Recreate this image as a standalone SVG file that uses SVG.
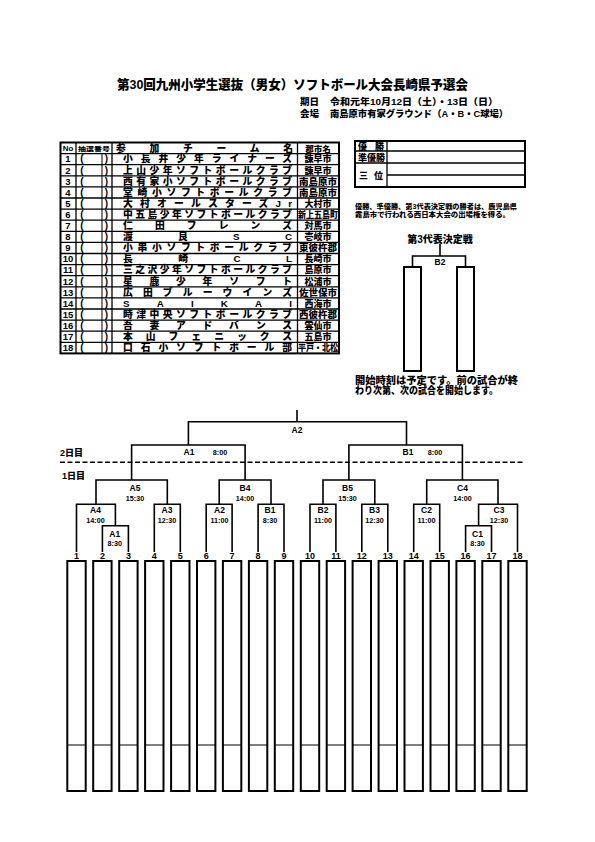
<svg xmlns="http://www.w3.org/2000/svg" width="595" height="842" viewBox="0 0 595 842">
<style>
text{font-family:"Liberation Sans","Noto Sans CJK JP",sans-serif;font-weight:900;fill:#000}
.t{font-size:13px}
.sub{font-size:9.5px}
.hd{font-size:8px;text-anchor:middle}
.no{font-size:9.5px;text-anchor:middle}
.br{font-size:10px;text-anchor:middle}
.tm{font-size:9.8px}
.cy{font-size:9px;text-anchor:middle}
.lb{font-size:9px}
.nt{font-size:6.8px}
.nt2{font-size:10px}
.ml{font-size:8.5px;text-anchor:middle}
.mt{font-size:7.2px;text-anchor:middle}
.num{font-size:9px;text-anchor:middle}
.day{font-size:9px}
.tb{stroke:#000;stroke-width:1.3;fill:none}
.tbo{stroke:#000;stroke-width:2;fill:none}
.box{stroke:#000;stroke-width:2;fill:#fff}
.div{stroke:#000;stroke-width:1}
.cn{stroke:#000;stroke-width:1.6;fill:none}
</style>

<!-- Title -->
<g id="title">
<text class="t" x="117" y="88.5" textLength="351" lengthAdjust="spacingAndGlyphs">第30回九州小学生選抜（男女）ソフトボール大会長崎県予選会</text>
<text class="sub" x="300" y="105">期日</text>
<text class="sub" x="330" y="105" textLength="168" lengthAdjust="spacingAndGlyphs">令和元年10月12日（土）・13日（日）</text>
<text class="sub" x="300" y="116.5">会場</text>
<text class="sub" x="330" y="116.5" textLength="178" lengthAdjust="spacingAndGlyphs">南島原市有家グラウンド（A・B・C球場）</text>
</g>

<!-- Team table -->
<g id="team-table">
<rect class="tbo" x="60.5" y="142.5" width="278.5" height="210.9"/>
<path class="tb" d="M60.5,153.6H339M60.5,164.7H339M60.5,175.8H339M60.5,186.9H339M60.5,198H339M60.5,209.1H339M60.5,220.2H339M60.5,231.3H339M60.5,242.4H339M60.5,253.5H339M60.5,264.6H339M60.5,275.7H339M60.5,286.8H339M60.5,297.9H339M60.5,309H339M60.5,320.1H339M60.5,331.2H339M60.5,342.3H339"/>
<path class="tb" d="M76,142.5V353.4M112,142.5V353.4M297.5,142.5V353.4"/>
<path class="div" d="M102,153.6V353.4"/>
<text class="hd" x="68" y="151">No</text>
<text class="hd" x="94" y="150.5" style="font-size:6px" textLength="32" lengthAdjust="spacingAndGlyphs">抽選番号</text>
<text class="tm" x="116" y="151.5" textLength="177" lengthAdjust="spacing">参加チーム名</text>
<text class="hd" x="318" y="151.5" style="font-size:8.5px">郡市名</text>
</g>

<g id="row1"><text class="no" x="68" y="162.45">1</text><text class="br" x="82" y="162.45">(</text><text class="br" x="106.5" y="162.45">)</text><text class="tm" x="123" y="162.45" textLength="169" lengthAdjust="spacing">小長井少年ライナーズ</text><text class="cy" x="318" y="162.45">諫早市</text></g>
<g id="row2"><text class="no" x="68" y="173.55">2</text><text class="br" x="82" y="173.55">(</text><text class="br" x="106.5" y="173.55">)</text><text class="tm" x="123" y="173.55" textLength="169" lengthAdjust="spacing">上山少年ソフトボールクラブ</text><text class="cy" x="318" y="173.55">諫早市</text></g>
<g id="row3"><text class="no" x="68" y="184.65">3</text><text class="br" x="82" y="184.65">(</text><text class="br" x="106.5" y="184.65">)</text><text class="tm" x="123" y="184.65" textLength="169" lengthAdjust="spacing">西有家小ソフトボールクラブ</text><text class="cy" x="318" y="184.65" textLength="38" lengthAdjust="spacingAndGlyphs">南島原市</text></g>
<g id="row4"><text class="no" x="68" y="195.75">4</text><text class="br" x="82" y="195.75">(</text><text class="br" x="106.5" y="195.75">)</text><text class="tm" x="123" y="195.75" textLength="169" lengthAdjust="spacing">堂崎小ソフトボールクラブ</text><text class="cy" x="318" y="195.75" textLength="38" lengthAdjust="spacingAndGlyphs">南島原市</text></g>
<g id="row5"><text class="no" x="68" y="206.85">5</text><text class="br" x="82" y="206.85">(</text><text class="br" x="106.5" y="206.85">)</text><text class="tm" x="123" y="206.85" textLength="169" lengthAdjust="spacing">大村オールスターズJr</text><text class="cy" x="318" y="206.85">大村市</text></g>
<g id="row6"><text class="no" x="68" y="217.95">6</text><text class="br" x="82" y="217.95">(</text><text class="br" x="106.5" y="217.95">)</text><text class="tm" x="123" y="217.95" textLength="169" lengthAdjust="spacing">中五島少年ソフトボールクラブ</text><text class="cy" x="318" y="217.95" textLength="40" lengthAdjust="spacingAndGlyphs">新上五島町</text></g>
<g id="row7"><text class="no" x="68" y="229.05">7</text><text class="br" x="82" y="229.05">(</text><text class="br" x="106.5" y="229.05">)</text><text class="tm" x="123" y="229.05" textLength="169" lengthAdjust="spacing">仁田フレンズ</text><text class="cy" x="318" y="229.05">対馬市</text></g>
<g id="row8"><text class="no" x="68" y="240.15">8</text><text class="br" x="82" y="240.15">(</text><text class="br" x="106.5" y="240.15">)</text><text class="tm" x="123" y="240.15" textLength="169" lengthAdjust="spacing">渡良SC</text><text class="cy" x="318" y="240.15">壱岐市</text></g>
<g id="row9"><text class="no" x="68" y="251.25">9</text><text class="br" x="82" y="251.25">(</text><text class="br" x="106.5" y="251.25">)</text><text class="tm" x="123" y="251.25" textLength="169" lengthAdjust="spacing">小串小ソフトボールクラブ</text><text class="cy" x="318" y="251.25" textLength="38" lengthAdjust="spacingAndGlyphs">東彼杵郡</text></g>
<g id="row10"><text class="no" x="68" y="262.35">10</text><text class="br" x="82" y="262.35">(</text><text class="br" x="106.5" y="262.35">)</text><text class="tm" x="123" y="262.35" textLength="169" lengthAdjust="spacing">長崎CL</text><text class="cy" x="318" y="262.35">長崎市</text></g>
<g id="row11"><text class="no" x="68" y="273.45">11</text><text class="br" x="82" y="273.45">(</text><text class="br" x="106.5" y="273.45">)</text><text class="tm" x="123" y="273.45" textLength="169" lengthAdjust="spacing">三之沢少年ソフトボールクラブ</text><text class="cy" x="318" y="273.45">島原市</text></g>
<g id="row12"><text class="no" x="68" y="284.55">12</text><text class="br" x="82" y="284.55">(</text><text class="br" x="106.5" y="284.55">)</text><text class="tm" x="123" y="284.55" textLength="169" lengthAdjust="spacing">星鹿少年ソフト</text><text class="cy" x="318" y="284.55">松浦市</text></g>
<g id="row13"><text class="no" x="68" y="295.65">13</text><text class="br" x="82" y="295.65">(</text><text class="br" x="106.5" y="295.65">)</text><text class="tm" x="123" y="295.65" textLength="169" lengthAdjust="spacing">広田ブルーウインズ</text><text class="cy" x="318" y="295.65" textLength="38" lengthAdjust="spacingAndGlyphs">佐世保市</text></g>
<g id="row14"><text class="no" x="68" y="306.75">14</text><text class="br" x="82" y="306.75">(</text><text class="br" x="106.5" y="306.75">)</text><text class="tm" x="123" y="306.75" textLength="169" lengthAdjust="spacing">SAIKAI</text><text class="cy" x="318" y="306.75">西海市</text></g>
<g id="row15"><text class="no" x="68" y="317.85">15</text><text class="br" x="82" y="317.85">(</text><text class="br" x="106.5" y="317.85">)</text><text class="tm" x="123" y="317.85" textLength="169" lengthAdjust="spacing">時津中央ソフトボールクラブ</text><text class="cy" x="318" y="317.85" textLength="38" lengthAdjust="spacingAndGlyphs">西彼杵郡</text></g>
<g id="row16"><text class="no" x="68" y="328.95">16</text><text class="br" x="82" y="328.95">(</text><text class="br" x="106.5" y="328.95">)</text><text class="tm" x="123" y="328.95" textLength="169" lengthAdjust="spacing">吾妻アドバンス</text><text class="cy" x="318" y="328.95">雲仙市</text></g>
<g id="row17"><text class="no" x="68" y="340.05">17</text><text class="br" x="82" y="340.05">(</text><text class="br" x="106.5" y="340.05">)</text><text class="tm" x="123" y="340.05" textLength="169" lengthAdjust="spacing">本山フェニックス</text><text class="cy" x="318" y="340.05">五島市</text></g>
<g id="row18"><text class="no" x="68" y="351.15">18</text><text class="br" x="82" y="351.15">(</text><text class="br" x="106.5" y="351.15">)</text><text class="tm" x="123" y="351.15" textLength="169" lengthAdjust="spacing">口石小ソフトボール部</text><text class="cy" x="318" y="351.15" textLength="40" lengthAdjust="spacingAndGlyphs">平戸・北松</text></g>

<!-- Results box -->
<g id="results">
<rect class="tbo" x="355" y="141" width="170" height="46"/>
<path class="tb" d="M355,151H525M355,163H525M387,175H525M387,141V187"/>
<text class="lb" x="358" y="149.5" textLength="26" lengthAdjust="spacing">優勝</text>
<text class="lb" x="358" y="160.5" textLength="27" lengthAdjust="spacingAndGlyphs">準優勝</text>
<text class="lb" x="359" y="178.5" textLength="24" lengthAdjust="spacing">三位</text>
</g>

<g id="note1">
<text class="nt" x="355" y="208.5" textLength="162" lengthAdjust="spacingAndGlyphs">優勝、準優勝、第3代表決定戦の勝者は、鹿児島県</text>
<text class="nt" x="355" y="216.5" textLength="155" lengthAdjust="spacingAndGlyphs">霧島市で行われる西日本大会の出場権を得る。</text>
</g>

<!-- Third place playoff -->
<g id="third-title"><text class="nt2" x="440" y="242.5" text-anchor="middle">第3代表決定戦</text></g>
<g id="third-B2"><text class="ml" x="440" y="264.5">B2</text></g>
<g id="third-box-1"><rect class="box" x="404" y="267" width="17" height="104"/></g>
<g id="third-box-2"><rect class="box" x="457" y="267" width="17" height="104"/></g>

<g id="note2">
<text class="nt2" x="355" y="383.5" textLength="163" lengthAdjust="spacingAndGlyphs">開始時刻は予定です。前の試合が終</text>
<text class="nt2" x="355" y="393.5" textLength="143" lengthAdjust="spacingAndGlyphs">わり次第、次の試合を開始します。</text>
</g>

<!-- Day labels -->
<g id="days">
<text class="day" x="60" y="456">2日目</text>
<text class="day" x="62" y="478.5">1日目</text>
<path d="M60,462.3H525" stroke="#000" stroke-width="1.6" stroke-dasharray="5 2.5"/>
</g>

<!-- Connectors -->
<g id="connectors">
<path class="cn" d="M440,243.5V256M412.5,267V256H465.5V267"/>
<path class="cn" d="M102.4,552V525.7H128.4V552"/>
<path class="cn" d="M76.5,552V504.3H115.4V525.7"/>
<path class="cn" d="M154.3,552V504.3H180.3V552"/>
<path class="cn" d="M96,504.3V480H167.3V504.3"/>
<path class="cn" d="M206.2,552V504.3H232.1V552"/>
<path class="cn" d="M258.1,552V504.3H284V552"/>
<path class="cn" d="M219.2,504.3V480H271V504.3"/>
<path class="cn" d="M131.6,480V445H245.1V480"/>
<path class="cn" d="M310,552V504.3H335.9V552"/>
<path class="cn" d="M361.8,552V504.3H387.8V552"/>
<path class="cn" d="M323,504.3V480H374.8V504.3"/>
<path class="cn" d="M413.7,552V504.3H439.7V552"/>
<path class="cn" d="M465.6,552V525.7H491.5V552"/>
<path class="cn" d="M478.6,525.7V504.3H517.5V552"/>
<path class="cn" d="M426.7,504.3V480H498V504.3"/>
<path class="cn" d="M348.9,480V445H462.4V480"/>
<path class="cn" d="M188.4,445V421.7H406.5V445"/>
<path class="cn" d="M297,410V421.7"/>
</g>

<!-- Match labels -->
<g id="m-A2f"><text class="ml" x="297" y="432.5">A2</text></g>
<g id="m-A1d2"><text class="ml" x="189" y="455">A1</text><text class="mt" x="220" y="454.5">8:00</text></g>
<g id="m-B1d2"><text class="ml" x="408" y="455">B1</text><text class="mt" x="435" y="454.5">8:00</text></g>
<g id="m-A5"><text class="ml" x="135" y="491">A5</text><text class="mt" x="135" y="500.8">15:30</text></g>
<g id="m-B4"><text class="ml" x="245" y="491">B4</text><text class="mt" x="245" y="500.8">14:00</text></g>
<g id="m-B5"><text class="ml" x="347.5" y="491">B5</text><text class="mt" x="347.5" y="500.8">15:30</text></g>
<g id="m-C4"><text class="ml" x="462.5" y="491">C4</text><text class="mt" x="462.5" y="500.8">14:00</text></g>
<g id="m-A4"><text class="ml" x="95.5" y="513.3">A4</text><text class="mt" x="95.5" y="522.8">14:00</text></g>
<g id="m-A3"><text class="ml" x="167" y="513.3">A3</text><text class="mt" x="167" y="522.8">12:30</text></g>
<g id="m-A2"><text class="ml" x="219.5" y="513.3">A2</text><text class="mt" x="219.5" y="522.8">11:00</text></g>
<g id="m-B1"><text class="ml" x="270" y="513.3">B1</text><text class="mt" x="270" y="522.8">8:30</text></g>
<g id="m-B2"><text class="ml" x="323" y="513.3">B2</text><text class="mt" x="323" y="522.8">11:00</text></g>
<g id="m-B3"><text class="ml" x="374.5" y="513.3">B3</text><text class="mt" x="374.5" y="522.8">12:30</text></g>
<g id="m-C2"><text class="ml" x="426.5" y="513.3">C2</text><text class="mt" x="426.5" y="522.8">11:00</text></g>
<g id="m-C3"><text class="ml" x="499" y="513.3">C3</text><text class="mt" x="499" y="522.8">12:30</text></g>
<g id="m-A1"><text class="ml" x="114.8" y="536.6">A1</text><text class="mt" x="114.8" y="546.3">8:30</text></g>
<g id="m-C1"><text class="ml" x="477.5" y="536.6">C1</text><text class="mt" x="477.5" y="546.3">8:30</text></g>

<!-- Team slots -->
<g id="slot1"><text class="num" x="76.5" y="558.5">1</text><rect class="box" x="67.3" y="561" width="18.4" height="230"/><path class="div" d="M67.3,745H85.7"/></g>
<g id="slot2"><text class="num" x="102.4" y="558.5">2</text><rect class="box" x="93.2" y="561" width="18.4" height="230"/><path class="div" d="M93.2,745H111.6"/></g>
<g id="slot3"><text class="num" x="128.4" y="558.5">3</text><rect class="box" x="119.2" y="561" width="18.4" height="230"/><path class="div" d="M119.2,745H137.6"/></g>
<g id="slot4"><text class="num" x="154.3" y="558.5">4</text><rect class="box" x="145.1" y="561" width="18.4" height="230"/><path class="div" d="M145.1,745H163.5"/></g>
<g id="slot5"><text class="num" x="180.3" y="558.5">5</text><rect class="box" x="171.1" y="561" width="18.4" height="230"/><path class="div" d="M171.1,745H189.5"/></g>
<g id="slot6"><text class="num" x="206.2" y="558.5">6</text><rect class="box" x="197" y="561" width="18.4" height="230"/><path class="div" d="M197,745H215.4"/></g>
<g id="slot7"><text class="num" x="232.1" y="558.5">7</text><rect class="box" x="222.9" y="561" width="18.4" height="230"/><path class="div" d="M222.9,745H241.3"/></g>
<g id="slot8"><text class="num" x="258.1" y="558.5">8</text><rect class="box" x="248.9" y="561" width="18.4" height="230"/><path class="div" d="M248.9,745H267.3"/></g>
<g id="slot9"><text class="num" x="284" y="558.5">9</text><rect class="box" x="274.8" y="561" width="18.4" height="230"/><path class="div" d="M274.8,745H293.2"/></g>
<g id="slot10"><text class="num" x="310" y="558.5">10</text><rect class="box" x="300.8" y="561" width="18.4" height="230"/><path class="div" d="M300.8,745H319.2"/></g>
<g id="slot11"><text class="num" x="335.9" y="558.5">11</text><rect class="box" x="326.7" y="561" width="18.4" height="230"/><path class="div" d="M326.7,745H345.1"/></g>
<g id="slot12"><text class="num" x="361.8" y="558.5">12</text><rect class="box" x="352.6" y="561" width="18.4" height="230"/><path class="div" d="M352.6,745H371"/></g>
<g id="slot13"><text class="num" x="387.8" y="558.5">13</text><rect class="box" x="378.6" y="561" width="18.4" height="230"/><path class="div" d="M378.6,745H397"/></g>
<g id="slot14"><text class="num" x="413.7" y="558.5">14</text><rect class="box" x="404.5" y="561" width="18.4" height="230"/><path class="div" d="M404.5,745H422.9"/></g>
<g id="slot15"><text class="num" x="439.7" y="558.5">15</text><rect class="box" x="430.5" y="561" width="18.4" height="230"/><path class="div" d="M430.5,745H448.9"/></g>
<g id="slot16"><text class="num" x="465.6" y="558.5">16</text><rect class="box" x="456.4" y="561" width="18.4" height="230"/><path class="div" d="M456.4,745H474.8"/></g>
<g id="slot17"><text class="num" x="491.5" y="558.5">17</text><rect class="box" x="482.3" y="561" width="18.4" height="230"/><path class="div" d="M482.3,745H500.7"/></g>
<g id="slot18"><text class="num" x="517.5" y="558.5">18</text><rect class="box" x="508.3" y="561" width="18.4" height="230"/><path class="div" d="M508.3,745H526.7"/></g>
</svg>
